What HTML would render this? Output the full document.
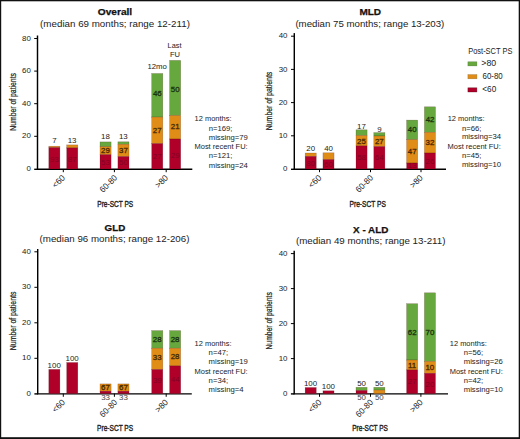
<!DOCTYPE html>
<html><head><meta charset="utf-8"><style>
html,body{margin:0;padding:0;background:#fff;}
svg{display:block;}
text{font-family:"Liberation Sans", sans-serif;}
</style></head><body>
<svg width="520" height="439" viewBox="0 0 520 439">
<rect x="0" y="0" width="520" height="439" fill="#111"/>
<rect x="1.2" y="1.3" width="517.5" height="435.9" fill="#fff"/>
<line x1="37.50" y1="35.50" x2="37.50" y2="169.60" stroke="#000" stroke-width="1.45"/>
<line x1="36.90" y1="169.30" x2="192.30" y2="169.30" stroke="#000" stroke-width="1.4"/>
<line x1="34.20" y1="38.50" x2="37.50" y2="38.50" stroke="#000" stroke-width="1.0"/>
<line x1="34.20" y1="71.10" x2="37.50" y2="71.10" stroke="#000" stroke-width="1.0"/>
<line x1="34.20" y1="103.70" x2="37.50" y2="103.70" stroke="#000" stroke-width="1.0"/>
<line x1="34.20" y1="136.30" x2="37.50" y2="136.30" stroke="#000" stroke-width="1.0"/>
<line x1="34.20" y1="169.30" x2="37.50" y2="169.30" stroke="#000" stroke-width="1.4"/>
<line x1="63.30" y1="169.00" x2="63.30" y2="172.20" stroke="#000" stroke-width="1.0"/>
<line x1="114.40" y1="169.00" x2="114.40" y2="172.20" stroke="#000" stroke-width="1.0"/>
<line x1="166.20" y1="169.00" x2="166.20" y2="172.20" stroke="#000" stroke-width="1.0"/>
<rect x="48.80" y="146.20" width="11.10" height="1.40" fill="#e08d18" stroke="#3a0008" stroke-opacity="0.35" stroke-width="0.5"/>
<rect x="48.80" y="147.60" width="11.10" height="21.40" fill="#b0002a" stroke="#3a0008" stroke-opacity="0.35" stroke-width="0.5"/>
<rect x="66.70" y="144.90" width="11.10" height="3.00" fill="#e08d18" stroke="#3a0008" stroke-opacity="0.35" stroke-width="0.5"/>
<rect x="66.70" y="147.90" width="11.10" height="21.10" fill="#b0002a" stroke="#3a0008" stroke-opacity="0.35" stroke-width="0.5"/>
<rect x="100.00" y="141.90" width="11.10" height="4.80" fill="#67a83e" stroke="#3a0008" stroke-opacity="0.35" stroke-width="0.5"/>
<rect x="100.00" y="146.70" width="11.10" height="8.00" fill="#e08d18" stroke="#3a0008" stroke-opacity="0.35" stroke-width="0.5"/>
<rect x="100.00" y="154.70" width="11.10" height="14.30" fill="#b0002a" stroke="#3a0008" stroke-opacity="0.35" stroke-width="0.5"/>
<rect x="117.90" y="141.80" width="11.10" height="2.50" fill="#67a83e" stroke="#3a0008" stroke-opacity="0.35" stroke-width="0.5"/>
<rect x="117.90" y="144.30" width="11.10" height="12.30" fill="#e08d18" stroke="#3a0008" stroke-opacity="0.35" stroke-width="0.5"/>
<rect x="117.90" y="156.60" width="11.10" height="12.40" fill="#b0002a" stroke="#3a0008" stroke-opacity="0.35" stroke-width="0.5"/>
<rect x="151.70" y="73.50" width="11.10" height="43.60" fill="#67a83e" stroke="#3a0008" stroke-opacity="0.35" stroke-width="0.5"/>
<rect x="151.70" y="117.10" width="11.10" height="26.50" fill="#e08d18" stroke="#3a0008" stroke-opacity="0.35" stroke-width="0.5"/>
<rect x="151.70" y="143.60" width="11.10" height="25.40" fill="#b0002a" stroke="#3a0008" stroke-opacity="0.35" stroke-width="0.5"/>
<rect x="169.60" y="60.40" width="11.10" height="55.10" fill="#67a83e" stroke="#3a0008" stroke-opacity="0.35" stroke-width="0.5"/>
<rect x="169.60" y="115.50" width="11.10" height="23.50" fill="#e08d18" stroke="#3a0008" stroke-opacity="0.35" stroke-width="0.5"/>
<rect x="169.60" y="139.00" width="11.10" height="30.00" fill="#b0002a" stroke="#3a0008" stroke-opacity="0.35" stroke-width="0.5"/>
<line x1="294.30" y1="33.10" x2="294.30" y2="169.60" stroke="#000" stroke-width="1.45"/>
<line x1="293.70" y1="169.30" x2="446.00" y2="169.30" stroke="#000" stroke-width="1.4"/>
<line x1="291.00" y1="36.20" x2="294.30" y2="36.20" stroke="#000" stroke-width="1.0"/>
<line x1="291.00" y1="69.40" x2="294.30" y2="69.40" stroke="#000" stroke-width="1.0"/>
<line x1="291.00" y1="102.60" x2="294.30" y2="102.60" stroke="#000" stroke-width="1.0"/>
<line x1="291.00" y1="135.80" x2="294.30" y2="135.80" stroke="#000" stroke-width="1.0"/>
<line x1="291.00" y1="169.30" x2="294.30" y2="169.30" stroke="#000" stroke-width="1.4"/>
<line x1="319.50" y1="169.00" x2="319.50" y2="172.20" stroke="#000" stroke-width="1.0"/>
<line x1="370.50" y1="169.00" x2="370.50" y2="172.20" stroke="#000" stroke-width="1.0"/>
<line x1="421.00" y1="169.00" x2="421.00" y2="172.20" stroke="#000" stroke-width="1.0"/>
<rect x="305.15" y="153.00" width="11.10" height="3.40" fill="#e08d18" stroke="#3a0008" stroke-opacity="0.35" stroke-width="0.5"/>
<rect x="305.15" y="156.40" width="11.10" height="12.60" fill="#b0002a" stroke="#3a0008" stroke-opacity="0.35" stroke-width="0.5"/>
<rect x="322.95" y="152.80" width="11.10" height="6.80" fill="#e08d18" stroke="#3a0008" stroke-opacity="0.35" stroke-width="0.5"/>
<rect x="322.95" y="159.60" width="11.10" height="9.40" fill="#b0002a" stroke="#3a0008" stroke-opacity="0.35" stroke-width="0.5"/>
<rect x="356.00" y="129.80" width="11.10" height="5.70" fill="#67a83e" stroke="#3a0008" stroke-opacity="0.35" stroke-width="0.5"/>
<rect x="356.00" y="135.50" width="11.10" height="10.40" fill="#e08d18" stroke="#3a0008" stroke-opacity="0.35" stroke-width="0.5"/>
<rect x="356.00" y="145.90" width="11.10" height="23.10" fill="#b0002a" stroke="#3a0008" stroke-opacity="0.35" stroke-width="0.5"/>
<rect x="373.80" y="132.60" width="11.10" height="3.40" fill="#67a83e" stroke="#3a0008" stroke-opacity="0.35" stroke-width="0.5"/>
<rect x="373.80" y="136.00" width="11.10" height="10.60" fill="#e08d18" stroke="#3a0008" stroke-opacity="0.35" stroke-width="0.5"/>
<rect x="373.80" y="146.60" width="11.10" height="22.40" fill="#b0002a" stroke="#3a0008" stroke-opacity="0.35" stroke-width="0.5"/>
<rect x="406.60" y="120.10" width="11.10" height="19.50" fill="#67a83e" stroke="#3a0008" stroke-opacity="0.35" stroke-width="0.5"/>
<rect x="406.60" y="139.60" width="11.10" height="23.40" fill="#e08d18" stroke="#3a0008" stroke-opacity="0.35" stroke-width="0.5"/>
<rect x="406.60" y="163.00" width="11.10" height="6.00" fill="#b0002a" stroke="#3a0008" stroke-opacity="0.35" stroke-width="0.5"/>
<rect x="424.40" y="106.80" width="11.10" height="25.50" fill="#67a83e" stroke="#3a0008" stroke-opacity="0.35" stroke-width="0.5"/>
<rect x="424.40" y="132.30" width="11.10" height="20.70" fill="#e08d18" stroke="#3a0008" stroke-opacity="0.35" stroke-width="0.5"/>
<rect x="424.40" y="153.00" width="11.10" height="16.00" fill="#b0002a" stroke="#3a0008" stroke-opacity="0.35" stroke-width="0.5"/>
<rect x="467.90" y="61.80" width="9.00" height="4.10" fill="#67a83e" stroke="#2a4a1a" stroke-opacity="0.5" stroke-width="0.5"/>
<rect x="467.90" y="74.60" width="9.00" height="4.20" fill="#e08d18" stroke="#6a4a10" stroke-opacity="0.5" stroke-width="0.5"/>
<rect x="467.90" y="87.80" width="9.00" height="4.20" fill="#b0002a" stroke="#3a0008" stroke-opacity="0.6" stroke-width="0.5"/>
<line x1="37.70" y1="249.00" x2="37.70" y2="394.20" stroke="#000" stroke-width="1.45"/>
<line x1="37.10" y1="393.90" x2="191.80" y2="393.90" stroke="#000" stroke-width="1.4"/>
<line x1="34.40" y1="251.80" x2="37.70" y2="251.80" stroke="#000" stroke-width="1.0"/>
<line x1="34.40" y1="287.30" x2="37.70" y2="287.30" stroke="#000" stroke-width="1.0"/>
<line x1="34.40" y1="322.80" x2="37.70" y2="322.80" stroke="#000" stroke-width="1.0"/>
<line x1="34.40" y1="358.30" x2="37.70" y2="358.30" stroke="#000" stroke-width="1.0"/>
<line x1="34.40" y1="393.90" x2="37.70" y2="393.90" stroke="#000" stroke-width="1.4"/>
<line x1="63.30" y1="393.60" x2="63.30" y2="396.80" stroke="#000" stroke-width="1.0"/>
<line x1="114.40" y1="393.60" x2="114.40" y2="396.80" stroke="#000" stroke-width="1.0"/>
<line x1="166.20" y1="393.60" x2="166.20" y2="396.80" stroke="#000" stroke-width="1.0"/>
<rect x="48.80" y="369.40" width="11.10" height="24.20" fill="#b0002a" stroke="#3a0008" stroke-opacity="0.35" stroke-width="0.5"/>
<rect x="66.70" y="362.50" width="11.10" height="31.10" fill="#b0002a" stroke="#3a0008" stroke-opacity="0.35" stroke-width="0.5"/>
<rect x="100.00" y="383.90" width="11.10" height="7.30" fill="#e08d18" stroke="#3a0008" stroke-opacity="0.35" stroke-width="0.5"/>
<rect x="100.00" y="391.20" width="11.10" height="2.40" fill="#b0002a" stroke="#3a0008" stroke-opacity="0.35" stroke-width="0.5"/>
<rect x="117.90" y="383.90" width="11.10" height="7.30" fill="#e08d18" stroke="#3a0008" stroke-opacity="0.35" stroke-width="0.5"/>
<rect x="117.90" y="391.20" width="11.10" height="2.40" fill="#b0002a" stroke="#3a0008" stroke-opacity="0.35" stroke-width="0.5"/>
<rect x="151.70" y="330.60" width="11.10" height="17.60" fill="#67a83e" stroke="#3a0008" stroke-opacity="0.35" stroke-width="0.5"/>
<rect x="151.70" y="348.20" width="11.10" height="21.30" fill="#e08d18" stroke="#3a0008" stroke-opacity="0.35" stroke-width="0.5"/>
<rect x="151.70" y="369.50" width="11.10" height="24.10" fill="#b0002a" stroke="#3a0008" stroke-opacity="0.35" stroke-width="0.5"/>
<rect x="169.60" y="330.60" width="11.10" height="17.60" fill="#67a83e" stroke="#3a0008" stroke-opacity="0.35" stroke-width="0.5"/>
<rect x="169.60" y="348.20" width="11.10" height="17.70" fill="#e08d18" stroke="#3a0008" stroke-opacity="0.35" stroke-width="0.5"/>
<rect x="169.60" y="365.90" width="11.10" height="27.70" fill="#b0002a" stroke="#3a0008" stroke-opacity="0.35" stroke-width="0.5"/>
<line x1="294.20" y1="250.70" x2="294.20" y2="394.20" stroke="#000" stroke-width="1.45"/>
<line x1="293.60" y1="393.90" x2="448.00" y2="393.90" stroke="#000" stroke-width="1.4"/>
<line x1="290.90" y1="253.60" x2="294.20" y2="253.60" stroke="#000" stroke-width="1.0"/>
<line x1="290.90" y1="288.60" x2="294.20" y2="288.60" stroke="#000" stroke-width="1.0"/>
<line x1="290.90" y1="323.60" x2="294.20" y2="323.60" stroke="#000" stroke-width="1.0"/>
<line x1="290.90" y1="358.60" x2="294.20" y2="358.60" stroke="#000" stroke-width="1.0"/>
<line x1="290.90" y1="393.90" x2="294.20" y2="393.90" stroke="#000" stroke-width="1.4"/>
<line x1="319.50" y1="393.60" x2="319.50" y2="396.80" stroke="#000" stroke-width="1.0"/>
<line x1="370.50" y1="393.60" x2="370.50" y2="396.80" stroke="#000" stroke-width="1.0"/>
<line x1="420.90" y1="393.60" x2="420.90" y2="396.80" stroke="#000" stroke-width="1.0"/>
<rect x="305.15" y="387.50" width="11.10" height="6.10" fill="#b0002a" stroke="#3a0008" stroke-opacity="0.35" stroke-width="0.5"/>
<rect x="322.95" y="390.80" width="11.10" height="2.80" fill="#b0002a" stroke="#3a0008" stroke-opacity="0.35" stroke-width="0.5"/>
<rect x="356.00" y="387.30" width="11.10" height="3.20" fill="#67a83e" stroke="#3a0008" stroke-opacity="0.35" stroke-width="0.5"/>
<rect x="356.00" y="390.50" width="11.10" height="3.10" fill="#b0002a" stroke="#3a0008" stroke-opacity="0.35" stroke-width="0.5"/>
<rect x="373.80" y="387.30" width="11.10" height="2.80" fill="#67a83e" stroke="#3a0008" stroke-opacity="0.35" stroke-width="0.5"/>
<rect x="373.80" y="390.10" width="11.10" height="3.50" fill="#e08d18" stroke="#3a0008" stroke-opacity="0.35" stroke-width="0.5"/>
<rect x="406.60" y="303.70" width="11.10" height="56.30" fill="#67a83e" stroke="#3a0008" stroke-opacity="0.35" stroke-width="0.5"/>
<rect x="406.60" y="360.00" width="11.10" height="9.90" fill="#e08d18" stroke="#3a0008" stroke-opacity="0.35" stroke-width="0.5"/>
<rect x="406.60" y="369.90" width="11.10" height="23.70" fill="#b0002a" stroke="#3a0008" stroke-opacity="0.35" stroke-width="0.5"/>
<rect x="424.40" y="292.80" width="11.10" height="68.60" fill="#67a83e" stroke="#3a0008" stroke-opacity="0.35" stroke-width="0.5"/>
<rect x="424.40" y="361.40" width="11.10" height="11.90" fill="#e08d18" stroke="#3a0008" stroke-opacity="0.35" stroke-width="0.5"/>
<rect x="424.40" y="373.30" width="11.10" height="20.30" fill="#b0002a" stroke="#3a0008" stroke-opacity="0.35" stroke-width="0.5"/>
<text x="97.79" y="15.40" font-size="9.2" font-weight="bold" fill="#111" textLength="34.39" lengthAdjust="spacingAndGlyphs" stroke="#111" stroke-width="0.25">Overall</text>
<text x="40.11" y="27.10" font-size="9.0" fill="#222" textLength="149.80" lengthAdjust="spacingAndGlyphs">(median 69 months; range 12-211)</text>
<text x="22.10" y="40.60" font-size="7.9" fill="#222" textLength="8.79" lengthAdjust="spacingAndGlyphs">80</text>
<text x="22.10" y="73.20" font-size="7.9" fill="#222" textLength="8.79" lengthAdjust="spacingAndGlyphs">60</text>
<text x="22.10" y="105.80" font-size="7.9" fill="#222" textLength="8.79" lengthAdjust="spacingAndGlyphs">40</text>
<text x="22.10" y="138.40" font-size="7.9" fill="#222" textLength="8.79" lengthAdjust="spacingAndGlyphs">20</text>
<text x="26.49" y="171.10" font-size="7.9" fill="#222" textLength="4.39" lengthAdjust="spacingAndGlyphs">0</text>
<text x="52.14" y="143.40" font-size="7.9" fill="#222" textLength="4.39" lengthAdjust="spacingAndGlyphs">7</text>
<text x="67.72" y="142.80" font-size="7.9" fill="#222" textLength="8.79" lengthAdjust="spacingAndGlyphs">13</text>
<text x="101.02" y="139.20" font-size="7.9" fill="#222" textLength="8.79" lengthAdjust="spacingAndGlyphs">18</text>
<text x="118.92" y="139.20" font-size="7.9" fill="#222" textLength="8.79" lengthAdjust="spacingAndGlyphs">13</text>
<text x="147.46" y="68.80" font-size="7.9" fill="#222" textLength="19.42" lengthAdjust="spacingAndGlyphs">12mo</text>
<text x="167.61" y="48.20" font-size="7.9" fill="#222" textLength="13.87" lengthAdjust="spacingAndGlyphs">Last</text>
<text x="169.90" y="57.10" font-size="7.9" fill="#222" textLength="10.05" lengthAdjust="spacingAndGlyphs">FU</text>
<text x="49.94" y="162.10" font-size="7.9" fill="#4a0016" textLength="8.79" lengthAdjust="spacingAndGlyphs" opacity="0.45">93</text>
<text x="67.88" y="162.10" font-size="7.9" fill="#4a0016" textLength="8.79" lengthAdjust="spacingAndGlyphs" opacity="0.45">87</text>
<text x="101.14" y="153.10" font-size="7.9" fill="#3a1d00" textLength="8.79" lengthAdjust="spacingAndGlyphs" opacity="0.92" stroke="#3a1d00" stroke-width="0.3">29</text>
<text x="101.14" y="164.60" font-size="7.9" fill="#4a0016" textLength="8.79" lengthAdjust="spacingAndGlyphs" opacity="0.45">53</text>
<text x="119.12" y="153.20" font-size="7.9" fill="#3a1d00" textLength="8.79" lengthAdjust="spacingAndGlyphs" opacity="0.92" stroke="#3a1d00" stroke-width="0.3">37</text>
<text x="119.04" y="164.60" font-size="7.9" fill="#4a0016" textLength="8.79" lengthAdjust="spacingAndGlyphs" opacity="0.45">50</text>
<text x="152.92" y="95.60" font-size="7.9" fill="#13280a" textLength="8.79" lengthAdjust="spacingAndGlyphs" opacity="0.92" stroke="#13280a" stroke-width="0.3">46</text>
<text x="152.84" y="133.00" font-size="7.9" fill="#3a1d00" textLength="8.79" lengthAdjust="spacingAndGlyphs" opacity="0.92" stroke="#3a1d00" stroke-width="0.3">27</text>
<text x="152.84" y="158.60" font-size="7.9" fill="#4a0016" textLength="8.79" lengthAdjust="spacingAndGlyphs" opacity="0.45">27</text>
<text x="170.74" y="92.10" font-size="7.9" fill="#13280a" textLength="8.79" lengthAdjust="spacingAndGlyphs" opacity="0.92" stroke="#13280a" stroke-width="0.3">50</text>
<text x="170.74" y="128.60" font-size="7.9" fill="#3a1d00" textLength="8.79" lengthAdjust="spacingAndGlyphs" opacity="0.92" stroke="#3a1d00" stroke-width="0.3">21</text>
<text x="170.74" y="157.60" font-size="7.9" fill="#4a0016" textLength="8.79" lengthAdjust="spacingAndGlyphs" opacity="0.45">29</text>
<text x="194.58" y="121.30" font-size="7.7" fill="#222" textLength="36.95" lengthAdjust="spacingAndGlyphs">12 months:</text>
<text x="208.74" y="130.60" font-size="7.7" fill="#222" textLength="23.77" lengthAdjust="spacingAndGlyphs">n=169;</text>
<text x="208.74" y="139.50" font-size="7.7" fill="#222" textLength="39.16" lengthAdjust="spacingAndGlyphs">missing=79</text>
<text x="194.50" y="149.20" font-size="7.7" fill="#222" textLength="53.13" lengthAdjust="spacingAndGlyphs">Most recent FU:</text>
<text x="208.74" y="158.40" font-size="7.7" fill="#222" textLength="23.77" lengthAdjust="spacingAndGlyphs">n=121;</text>
<text x="208.74" y="167.50" font-size="7.7" fill="#222" textLength="39.16" lengthAdjust="spacingAndGlyphs">missing=24</text>
<text x="15.35" y="130.20" font-size="8.4" fill="#222" textLength="57.75" lengthAdjust="spacingAndGlyphs" transform="rotate(-90 15.9 130.2)" stroke="#222" stroke-width="0.2">Number of patients</text>
<text x="51.39" y="178.50" font-size="8.5" fill="#222" textLength="14.42" lengthAdjust="spacingAndGlyphs" transform="rotate(-45 65.50 178.50)">&lt;60</text>
<text x="97.02" y="178.50" font-size="8.5" fill="#222" textLength="20.87" lengthAdjust="spacingAndGlyphs" transform="rotate(-45 117.60 178.50)">60-80</text>
<text x="154.29" y="178.50" font-size="8.5" fill="#222" textLength="14.42" lengthAdjust="spacingAndGlyphs" transform="rotate(-45 168.40 178.50)">&gt;80</text>
<text x="97.28" y="206.60" font-size="9.2" fill="#222" textLength="35.86" lengthAdjust="spacingAndGlyphs" stroke="#222" stroke-width="0.4">Pre-SCT PS</text>
<text x="359.40" y="15.20" font-size="9.2" font-weight="bold" fill="#111" textLength="21.72" lengthAdjust="spacingAndGlyphs" stroke="#111" stroke-width="0.25">MLD</text>
<text x="295.42" y="26.60" font-size="9.0" fill="#222" textLength="148.89" lengthAdjust="spacingAndGlyphs">(median 75 months; range 13-203)</text>
<text x="278.70" y="38.30" font-size="7.9" fill="#222" textLength="8.79" lengthAdjust="spacingAndGlyphs">40</text>
<text x="278.70" y="71.50" font-size="7.9" fill="#222" textLength="8.79" lengthAdjust="spacingAndGlyphs">30</text>
<text x="278.70" y="104.70" font-size="7.9" fill="#222" textLength="8.79" lengthAdjust="spacingAndGlyphs">20</text>
<text x="278.70" y="137.90" font-size="7.9" fill="#222" textLength="8.79" lengthAdjust="spacingAndGlyphs">10</text>
<text x="283.09" y="171.10" font-size="7.9" fill="#222" textLength="4.39" lengthAdjust="spacingAndGlyphs">0</text>
<text x="306.25" y="151.40" font-size="7.9" fill="#222" textLength="8.79" lengthAdjust="spacingAndGlyphs">20</text>
<text x="324.17" y="151.40" font-size="7.9" fill="#222" textLength="8.79" lengthAdjust="spacingAndGlyphs">40</text>
<text x="357.06" y="128.80" font-size="7.9" fill="#222" textLength="8.79" lengthAdjust="spacingAndGlyphs">17</text>
<text x="377.18" y="131.80" font-size="7.9" fill="#222" textLength="4.39" lengthAdjust="spacingAndGlyphs">9</text>
<text x="306.29" y="165.60" font-size="7.9" fill="#4a0016" textLength="8.79" lengthAdjust="spacingAndGlyphs" opacity="0.45">80</text>
<text x="324.05" y="166.90" font-size="7.9" fill="#4a0016" textLength="8.79" lengthAdjust="spacingAndGlyphs" opacity="0.45">60</text>
<text x="357.10" y="143.90" font-size="7.9" fill="#3a1d00" textLength="8.79" lengthAdjust="spacingAndGlyphs" opacity="0.92" stroke="#3a1d00" stroke-width="0.3">25</text>
<text x="357.14" y="160.10" font-size="7.9" fill="#4a0016" textLength="8.79" lengthAdjust="spacingAndGlyphs" opacity="0.45">58</text>
<text x="374.94" y="144.20" font-size="7.9" fill="#3a1d00" textLength="8.79" lengthAdjust="spacingAndGlyphs" opacity="0.92" stroke="#3a1d00" stroke-width="0.3">27</text>
<text x="374.86" y="160.40" font-size="7.9" fill="#4a0016" textLength="8.79" lengthAdjust="spacingAndGlyphs" opacity="0.45">64</text>
<text x="407.82" y="131.80" font-size="7.9" fill="#13280a" textLength="8.79" lengthAdjust="spacingAndGlyphs" opacity="0.92" stroke="#13280a" stroke-width="0.3">40</text>
<text x="407.86" y="154.10" font-size="7.9" fill="#3a1d00" textLength="8.79" lengthAdjust="spacingAndGlyphs" opacity="0.92" stroke="#3a1d00" stroke-width="0.3">47</text>
<text x="407.62" y="168.20" font-size="7.9" fill="#4a0016" textLength="8.79" lengthAdjust="spacingAndGlyphs" opacity="0.45">13</text>
<text x="425.66" y="122.20" font-size="7.9" fill="#13280a" textLength="8.79" lengthAdjust="spacingAndGlyphs" opacity="0.92" stroke="#13280a" stroke-width="0.3">42</text>
<text x="425.62" y="145.30" font-size="7.9" fill="#3a1d00" textLength="8.79" lengthAdjust="spacingAndGlyphs" opacity="0.92" stroke="#3a1d00" stroke-width="0.3">32</text>
<text x="425.50" y="163.90" font-size="7.9" fill="#4a0016" textLength="8.79" lengthAdjust="spacingAndGlyphs" opacity="0.45">26</text>
<text x="447.68" y="121.20" font-size="7.7" fill="#222" textLength="36.95" lengthAdjust="spacingAndGlyphs">12 months:</text>
<text x="461.94" y="130.50" font-size="7.7" fill="#222" textLength="19.48" lengthAdjust="spacingAndGlyphs">n=66;</text>
<text x="461.94" y="139.40" font-size="7.7" fill="#222" textLength="39.16" lengthAdjust="spacingAndGlyphs">missing=34</text>
<text x="447.60" y="149.10" font-size="7.7" fill="#222" textLength="53.13" lengthAdjust="spacingAndGlyphs">Most recent FU:</text>
<text x="461.94" y="158.30" font-size="7.7" fill="#222" textLength="19.48" lengthAdjust="spacingAndGlyphs">n=45;</text>
<text x="461.94" y="167.40" font-size="7.7" fill="#222" textLength="39.16" lengthAdjust="spacingAndGlyphs">missing=10</text>
<text x="271.75" y="129.70" font-size="8.4" fill="#222" textLength="58.56" lengthAdjust="spacingAndGlyphs" transform="rotate(-90 272.3 129.7)" stroke="#222" stroke-width="0.2">Number of patients</text>
<text x="307.69" y="178.50" font-size="8.5" fill="#222" textLength="14.42" lengthAdjust="spacingAndGlyphs" transform="rotate(-45 321.80 178.50)">&lt;60</text>
<text x="352.97" y="178.50" font-size="8.5" fill="#222" textLength="20.87" lengthAdjust="spacingAndGlyphs" transform="rotate(-45 373.55 178.50)">60-80</text>
<text x="409.14" y="178.50" font-size="8.5" fill="#222" textLength="14.42" lengthAdjust="spacingAndGlyphs" transform="rotate(-45 423.25 178.50)">&gt;80</text>
<text x="349.57" y="206.60" font-size="9.2" fill="#222" textLength="36.27" lengthAdjust="spacingAndGlyphs" stroke="#222" stroke-width="0.4">Pre-SCT PS</text>
<text x="468.20" y="54.20" font-size="8.2" fill="#222" textLength="44.27" lengthAdjust="spacingAndGlyphs">Post-SCT PS</text>
<text x="481.35" y="66.00" font-size="8.2" fill="#222" textLength="14.87" lengthAdjust="spacingAndGlyphs">&gt;80</text>
<text x="482.51" y="78.90" font-size="8.2" fill="#222" textLength="20.18" lengthAdjust="spacingAndGlyphs">60-80</text>
<text x="482.27" y="91.90" font-size="8.2" fill="#222" textLength="13.93" lengthAdjust="spacingAndGlyphs">&lt;60</text>
<text x="104.61" y="230.70" font-size="9.2" font-weight="bold" fill="#111" textLength="20.71" lengthAdjust="spacingAndGlyphs" stroke="#111" stroke-width="0.25">GLD</text>
<text x="39.62" y="242.40" font-size="9.0" fill="#222" textLength="149.80" lengthAdjust="spacingAndGlyphs">(median 96 months; range 12-206)</text>
<text x="22.10" y="253.90" font-size="7.9" fill="#222" textLength="8.79" lengthAdjust="spacingAndGlyphs">40</text>
<text x="22.10" y="289.40" font-size="7.9" fill="#222" textLength="8.79" lengthAdjust="spacingAndGlyphs">30</text>
<text x="22.10" y="324.90" font-size="7.9" fill="#222" textLength="8.79" lengthAdjust="spacingAndGlyphs">20</text>
<text x="22.10" y="360.40" font-size="7.9" fill="#222" textLength="8.79" lengthAdjust="spacingAndGlyphs">10</text>
<text x="26.49" y="395.70" font-size="7.9" fill="#222" textLength="4.39" lengthAdjust="spacingAndGlyphs">0</text>
<text x="47.63" y="367.90" font-size="7.9" fill="#222" textLength="13.18" lengthAdjust="spacingAndGlyphs">100</text>
<text x="65.53" y="360.90" font-size="7.9" fill="#222" textLength="13.18" lengthAdjust="spacingAndGlyphs">100</text>
<text x="101.14" y="390.20" font-size="7.9" fill="#3a1d00" textLength="8.79" lengthAdjust="spacingAndGlyphs" opacity="0.92" stroke="#3a1d00" stroke-width="0.3">67</text>
<text x="119.04" y="390.20" font-size="7.9" fill="#3a1d00" textLength="8.79" lengthAdjust="spacingAndGlyphs" opacity="0.92" stroke="#3a1d00" stroke-width="0.3">67</text>
<text x="101.18" y="400.30" font-size="7.9" fill="#444" textLength="8.79" lengthAdjust="spacingAndGlyphs">33</text>
<text x="119.08" y="400.30" font-size="7.9" fill="#444" textLength="8.79" lengthAdjust="spacingAndGlyphs">33</text>
<text x="152.80" y="341.80" font-size="7.9" fill="#13280a" textLength="8.79" lengthAdjust="spacingAndGlyphs" opacity="0.92" stroke="#13280a" stroke-width="0.3">28</text>
<text x="152.88" y="360.10" font-size="7.9" fill="#3a1d00" textLength="8.79" lengthAdjust="spacingAndGlyphs" opacity="0.92" stroke="#3a1d00" stroke-width="0.3">33</text>
<text x="152.92" y="383.10" font-size="7.9" fill="#4a0016" textLength="8.79" lengthAdjust="spacingAndGlyphs" opacity="0.45">39</text>
<text x="170.70" y="341.80" font-size="7.9" fill="#13280a" textLength="8.79" lengthAdjust="spacingAndGlyphs" opacity="0.92" stroke="#13280a" stroke-width="0.3">28</text>
<text x="170.70" y="359.10" font-size="7.9" fill="#3a1d00" textLength="8.79" lengthAdjust="spacingAndGlyphs" opacity="0.92" stroke="#3a1d00" stroke-width="0.3">28</text>
<text x="170.78" y="382.10" font-size="7.9" fill="#4a0016" textLength="8.79" lengthAdjust="spacingAndGlyphs" opacity="0.45">44</text>
<text x="194.58" y="346.00" font-size="7.7" fill="#222" textLength="36.95" lengthAdjust="spacingAndGlyphs">12 months:</text>
<text x="208.64" y="355.30" font-size="7.7" fill="#222" textLength="19.48" lengthAdjust="spacingAndGlyphs">n=47;</text>
<text x="208.64" y="364.20" font-size="7.7" fill="#222" textLength="39.16" lengthAdjust="spacingAndGlyphs">missing=19</text>
<text x="194.50" y="373.90" font-size="7.7" fill="#222" textLength="53.13" lengthAdjust="spacingAndGlyphs">Most recent FU:</text>
<text x="208.64" y="383.10" font-size="7.7" fill="#222" textLength="19.48" lengthAdjust="spacingAndGlyphs">n=34;</text>
<text x="208.64" y="392.20" font-size="7.7" fill="#222" textLength="34.88" lengthAdjust="spacingAndGlyphs">missing=4</text>
<text x="15.15" y="349.60" font-size="8.4" fill="#222" textLength="58.56" lengthAdjust="spacingAndGlyphs" transform="rotate(-90 15.7 349.6)" stroke="#222" stroke-width="0.2">Number of patients</text>
<text x="51.39" y="403.10" font-size="8.5" fill="#222" textLength="14.42" lengthAdjust="spacingAndGlyphs" transform="rotate(-45 65.50 403.10)">&lt;60</text>
<text x="97.02" y="403.10" font-size="8.5" fill="#222" textLength="20.87" lengthAdjust="spacingAndGlyphs" transform="rotate(-45 117.60 403.10)">60-80</text>
<text x="154.29" y="403.10" font-size="8.5" fill="#222" textLength="14.42" lengthAdjust="spacingAndGlyphs" transform="rotate(-45 168.40 403.10)">&gt;80</text>
<text x="97.08" y="431.30" font-size="9.2" fill="#222" textLength="36.07" lengthAdjust="spacingAndGlyphs" stroke="#222" stroke-width="0.4">Pre-SCT PS</text>
<text x="353.10" y="232.60" font-size="9.2" font-weight="bold" fill="#111" textLength="35.31" lengthAdjust="spacingAndGlyphs" stroke="#111" stroke-width="0.25">X - ALD</text>
<text x="295.91" y="244.20" font-size="9.0" fill="#222" textLength="149.60" lengthAdjust="spacingAndGlyphs">(median 49 months; range 13-211)</text>
<text x="278.70" y="255.70" font-size="7.9" fill="#222" textLength="8.79" lengthAdjust="spacingAndGlyphs">40</text>
<text x="278.70" y="290.70" font-size="7.9" fill="#222" textLength="8.79" lengthAdjust="spacingAndGlyphs">30</text>
<text x="278.70" y="325.70" font-size="7.9" fill="#222" textLength="8.79" lengthAdjust="spacingAndGlyphs">20</text>
<text x="278.70" y="360.70" font-size="7.9" fill="#222" textLength="8.79" lengthAdjust="spacingAndGlyphs">10</text>
<text x="283.09" y="395.70" font-size="7.9" fill="#222" textLength="4.39" lengthAdjust="spacingAndGlyphs">0</text>
<text x="303.98" y="386.00" font-size="7.9" fill="#222" textLength="13.18" lengthAdjust="spacingAndGlyphs">100</text>
<text x="321.78" y="389.10" font-size="7.9" fill="#222" textLength="13.18" lengthAdjust="spacingAndGlyphs">100</text>
<text x="357.14" y="385.50" font-size="7.9" fill="#222" textLength="8.79" lengthAdjust="spacingAndGlyphs">50</text>
<text x="374.94" y="385.50" font-size="7.9" fill="#222" textLength="8.79" lengthAdjust="spacingAndGlyphs">50</text>
<text x="357.14" y="400.30" font-size="7.9" fill="#444" textLength="8.79" lengthAdjust="spacingAndGlyphs">50</text>
<text x="374.94" y="400.30" font-size="7.9" fill="#444" textLength="8.79" lengthAdjust="spacingAndGlyphs">50</text>
<text x="407.74" y="335.30" font-size="7.9" fill="#13280a" textLength="8.79" lengthAdjust="spacingAndGlyphs" opacity="0.92" stroke="#13280a" stroke-width="0.3">62</text>
<text x="407.96" y="367.80" font-size="7.9" fill="#3a1d00" textLength="8.20" lengthAdjust="spacingAndGlyphs" opacity="0.92" stroke="#3a1d00" stroke-width="0.3">11</text>
<text x="407.74" y="383.90" font-size="7.9" fill="#4a0016" textLength="8.79" lengthAdjust="spacingAndGlyphs" opacity="0.45">27</text>
<text x="425.50" y="334.50" font-size="7.9" fill="#13280a" textLength="8.79" lengthAdjust="spacingAndGlyphs" opacity="0.92" stroke="#13280a" stroke-width="0.3">70</text>
<text x="425.42" y="370.40" font-size="7.9" fill="#3a1d00" textLength="8.79" lengthAdjust="spacingAndGlyphs" opacity="0.92" stroke="#3a1d00" stroke-width="0.3">10</text>
<text x="425.50" y="387.10" font-size="7.9" fill="#4a0016" textLength="8.79" lengthAdjust="spacingAndGlyphs" opacity="0.45">20</text>
<text x="449.78" y="346.00" font-size="7.7" fill="#222" textLength="36.95" lengthAdjust="spacingAndGlyphs">12 months:</text>
<text x="463.74" y="355.30" font-size="7.7" fill="#222" textLength="19.48" lengthAdjust="spacingAndGlyphs">n=56;</text>
<text x="463.74" y="364.20" font-size="7.7" fill="#222" textLength="39.16" lengthAdjust="spacingAndGlyphs">missing=26</text>
<text x="449.70" y="373.90" font-size="7.7" fill="#222" textLength="53.13" lengthAdjust="spacingAndGlyphs">Most recent FU:</text>
<text x="463.74" y="383.10" font-size="7.7" fill="#222" textLength="19.48" lengthAdjust="spacingAndGlyphs">n=42;</text>
<text x="463.74" y="392.20" font-size="7.7" fill="#222" textLength="39.16" lengthAdjust="spacingAndGlyphs">missing=10</text>
<text x="271.76" y="349.00" font-size="8.4" fill="#222" textLength="57.35" lengthAdjust="spacingAndGlyphs" transform="rotate(-90 272.3 349.0)" stroke="#222" stroke-width="0.2">Number of patients</text>
<text x="307.69" y="403.10" font-size="8.5" fill="#222" textLength="14.42" lengthAdjust="spacingAndGlyphs" transform="rotate(-45 321.80 403.10)">&lt;60</text>
<text x="352.97" y="403.10" font-size="8.5" fill="#222" textLength="20.87" lengthAdjust="spacingAndGlyphs" transform="rotate(-45 373.55 403.10)">60-80</text>
<text x="409.14" y="403.10" font-size="8.5" fill="#222" textLength="14.42" lengthAdjust="spacingAndGlyphs" transform="rotate(-45 423.25 403.10)">&gt;80</text>
<text x="352.28" y="431.20" font-size="9.2" fill="#222" textLength="35.66" lengthAdjust="spacingAndGlyphs" stroke="#222" stroke-width="0.4">Pre-SCT PS</text>
</svg>
</body></html>
